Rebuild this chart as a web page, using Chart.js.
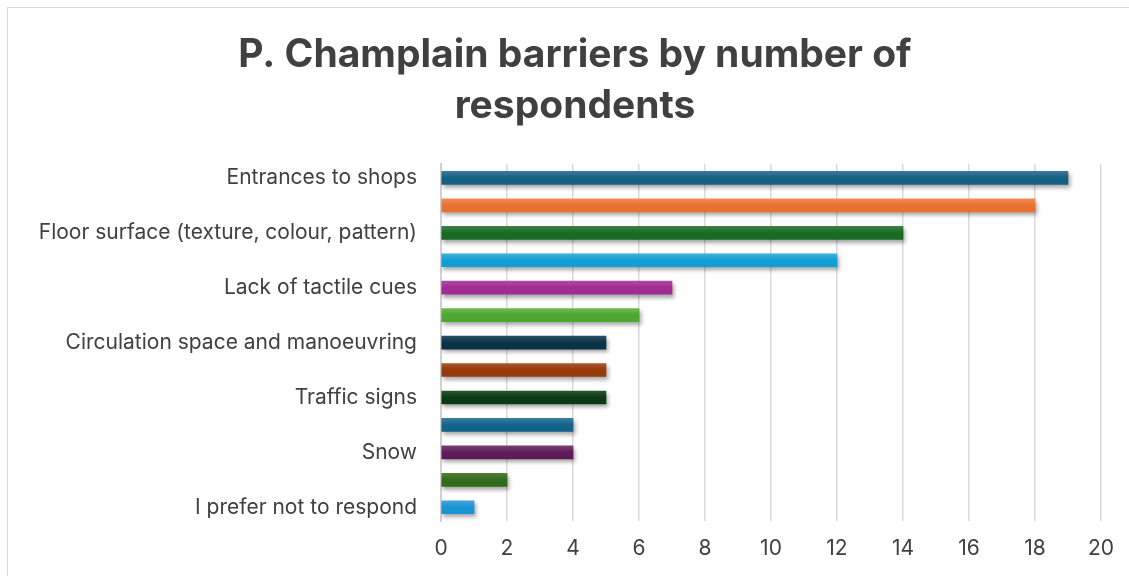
<!DOCTYPE html>
<html>
<head>
<meta charset="utf-8">
<script src="https://cdn.jsdelivr.net/npm/chart.js@4/dist/chart.umd.min.js"></script>
<style>
  html, body { margin: 0; padding: 0; background: #fff; }
  #wrap { position: relative; width: 1129px; height: 576px; }
  #frame { position: absolute; left: 7px; top: 7px; width: 1140px; height: 600px; border: 1px solid #d9d9d9; box-sizing: border-box; }
  canvas { position: absolute; left: 0; top: 0; }
</style>
</head>
<body>
<div id="wrap">
  <div id="frame"></div>
  <canvas id="chartBarriers" width="1129" height="576"></canvas>
</div>
<script>
// kategori (label yang tidak tampil dibiarkan kosong)
const kategori = [
    "Entrances to shops", "",
    "Floor surface (texture, colour, pattern)", "",
    "Lack of tactile cues", "",
    "Circulation space and manoeuvring", "",
    "Traffic signs", "",
    "Snow", "",
    "I prefer not to respond"
];
const jumlahResponden = [19, 18, 14, 12, 7, 6, 5, 5, 5, 4, 4, 2, 1];
const warnaDasar = ["#156082", "#E97132", "#196B24", "#0F9ED5", "#A02B93", "#4EA72E",
    "#0B3347", "#963A0C", "#0C3A14", "#12628A", "#5F1A59", "#336B1E", "#1B94D3"];
const warnaAtas = ["#3A7A9C", "#F38C54", "#3A8143", "#3DB0E0", "#B04CA4", "#6CB851",
    "#2A4E61", "#A8552A", "#2A5430", "#3A7C9E", "#764070", "#4F8038", "#40A5DB"];
const judul = ["P. Champlain barriers by number of", "respondents"];

const fontUtama = "Inter, 'Noto Sans', sans-serif";
const abu = "#404040";
const tebalBatang = 13;

// gradasi vertikal tiap batang + bayangan di bawahnya
const gayaBatang = {
    id: "gayaBatang",
    beforeDatasetsDraw(chart) {
        const ctx = chart.ctx;
        chart.getDatasetMeta(0).data.forEach((el, i) => {
            const g = ctx.createLinearGradient(0, el.y - tebalBatang / 2, 0, el.y + tebalBatang / 2);
            g.addColorStop(0, warnaAtas[i]);
            g.addColorStop(0.5, warnaDasar[i]);
            g.addColorStop(1, warnaDasar[i]);
            el.options.backgroundColor = g;
        });
        ctx.save();
        ctx.shadowColor = "rgba(0, 0, 0, 0.35)";
        ctx.shadowBlur = 4;
        ctx.shadowOffsetX = 2;
        ctx.shadowOffsetY = 3;
    },
    afterDatasetsDraw(chart) {
        chart.ctx.restore();
    }
};

new Chart(document.getElementById("chartBarriers").getContext("2d"), {
    type: "bar",
    data: {
        labels: kategori,
        datasets: [{
            data: jumlahResponden,
            barThickness: tebalBatang,
            borderWidth: 0,
            backgroundColor: warnaDasar
        }]
    },
    options: {
        indexAxis: "y",
        responsive: false,
        animation: false,
        layout: { padding: { top: 28, right: 0, left: 21, bottom: 0 } },
        scales: {
            x: {
                min: 0,
                max: 20,
                ticks: { stepSize: 2, color: abu, font: { family: fontUtama, size: 21 }, padding: 15 },
                grid: { color: "#d9d9d9", lineWidth: 1.5, drawTicks: false },
                border: { display: false },
                afterFit: (s) => { s.height = 55; }
            },
            y: {
                ticks: { autoSkip: false, color: abu, font: { family: fontUtama, size: 21 }, padding: 24 },
                grid: { display: false, drawTicks: false },
                border: { display: true, color: "#d0d0d0", width: 2 },
                afterFit: (s) => { s.width = 420; }
            },
            // sumbu kosong di kanan, hanya untuk ruang margin
            kanan: {
                axis: "y",
                type: "linear",
                position: "right",
                ticks: { display: false },
                grid: { display: false, drawTicks: false },
                border: { display: false },
                afterFit: (s) => { s.width = 28; }
            }
        },
        plugins: {
            legend: { display: false },
            tooltip: { enabled: false },
            title: {
                display: true,
                text: judul,
                color: abu,
                font: { family: fontUtama, size: 39, weight: "bold", lineHeight: 1.31 },
                padding: { top: 2, bottom: 32 }
            }
        }
    },
    plugins: [gayaBatang]
});
</script>
</body>
</html>
